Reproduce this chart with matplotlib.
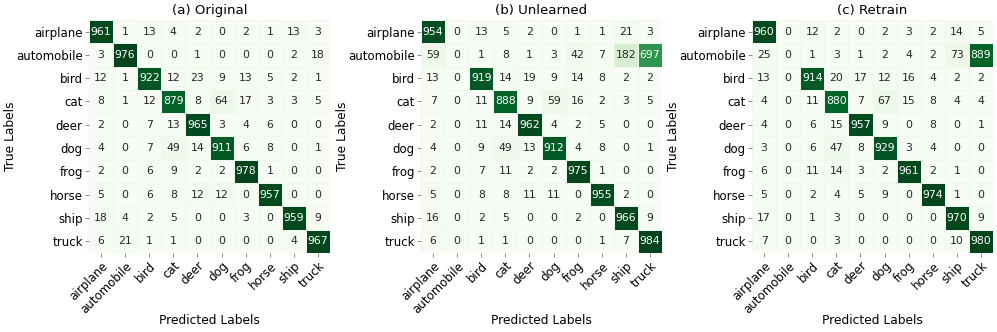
import matplotlib
matplotlib.use("Agg")
import matplotlib.pyplot as plt
import numpy as np

# ------------------- Data ---------------------
classes = ['airplane', 'automobile', 'bird', 'cat', 'deer',
           'dog', 'frog', 'horse', 'ship', 'truck']

cm_original = [
    [961, 1, 13, 4, 2, 0, 2, 1, 13, 3],
    [3, 976, 0, 0, 1, 0, 0, 0, 2, 18],
    [12, 1, 922, 12, 23, 9, 13, 5, 2, 1],
    [8, 1, 12, 879, 8, 64, 17, 3, 3, 5],
    [2, 0, 7, 13, 965, 3, 4, 6, 0, 0],
    [4, 0, 7, 49, 14, 911, 6, 8, 0, 1],
    [2, 0, 6, 9, 2, 2, 978, 1, 0, 0],
    [5, 0, 6, 8, 12, 12, 0, 957, 0, 0],
    [18, 4, 2, 5, 0, 0, 3, 0, 959, 9],
    [6, 21, 1, 1, 0, 0, 0, 0, 4, 967],
]

cm_unlearned = [
    [954, 0, 13, 5, 2, 0, 1, 1, 21, 3],
    [59, 0, 1, 8, 1, 3, 42, 7, 182, 697],
    [13, 0, 919, 14, 19, 9, 14, 8, 2, 2],
    [7, 0, 11, 888, 9, 59, 16, 2, 3, 5],
    [2, 0, 11, 14, 962, 4, 2, 5, 0, 0],
    [4, 0, 9, 49, 13, 912, 4, 8, 0, 1],
    [2, 0, 7, 11, 2, 2, 975, 1, 0, 0],
    [5, 0, 8, 8, 11, 11, 0, 955, 2, 0],
    [16, 0, 2, 5, 0, 0, 2, 0, 966, 9],
    [6, 0, 1, 1, 0, 0, 0, 1, 7, 984],
]

cm_retrain = [
    [960, 0, 12, 2, 0, 2, 3, 2, 14, 5],
    [25, 0, 1, 3, 1, 2, 4, 2, 73, 889],
    [13, 0, 914, 20, 17, 12, 16, 4, 2, 2],
    [4, 0, 11, 880, 7, 67, 15, 8, 4, 4],
    [4, 0, 6, 15, 957, 9, 0, 8, 0, 1],
    [3, 0, 6, 47, 8, 929, 3, 4, 0, 0],
    [6, 0, 11, 14, 3, 2, 961, 2, 1, 0],
    [5, 0, 2, 4, 5, 9, 0, 974, 1, 0],
    [17, 0, 1, 3, 0, 0, 0, 0, 970, 9],
    [7, 0, 0, 3, 0, 0, 0, 0, 10, 980],
]

titles = ['(a) Original', '(b) Unlearned', '(c) Retrain']

# ------------------- Plot ---------------------
fig = plt.figure(figsize=(9.97, 3.32), dpi=100)
lefts = [0.0893, 0.4223, 0.7543]
width, bottom, height = 0.2417, 0.238, 0.702
cmap = plt.get_cmap('Greens')

for left, cm, title in zip(lefts, [cm_original, cm_unlearned, cm_retrain], titles):
    ax = fig.add_axes([left, bottom, width, height])
    cm = np.array(cm)
    vmax = cm.max()
    ax.pcolormesh(cm, cmap=cmap, vmin=0, vmax=vmax,
                  edgecolors='#eef7ec', linewidth=0.5)
    ax.set_xlim(0, 10)
    ax.set_ylim(10, 0)
    for i in range(10):
        for j in range(10):
            v = cm[i, j]
            color = 'white' if v / vmax > 0.55 else '#262626'
            ax.text(j + 0.5, i + 0.5, str(v), ha='center', va='center',
                    fontsize=7.8, color=color)
    ax.set_xticks(np.arange(10) + 0.5)
    ax.set_yticks(np.arange(10) + 0.5)
    ax.set_xticklabels(classes, rotation=45, ha='right',
                       rotation_mode='anchor', fontsize=8.5)
    ax.set_yticklabels(classes, fontsize=8.5)
    ax.tick_params(length=3, width=0.6, color='#777777', pad=1.5)
    for s in ax.spines.values():
        s.set_visible(False)
    ax.set_xlabel('Predicted Labels', fontsize=8.8, va='center')
    ax.xaxis.set_label_coords(0.5, -0.288)
    ax.set_ylabel('True Labels', fontsize=8.8, va='center')
    ax.yaxis.set_label_coords(-0.325, 0.5)
    ax.set_title(title, fontsize=9.6, pad=4)

fig.savefig('out.png', dpi=100)
